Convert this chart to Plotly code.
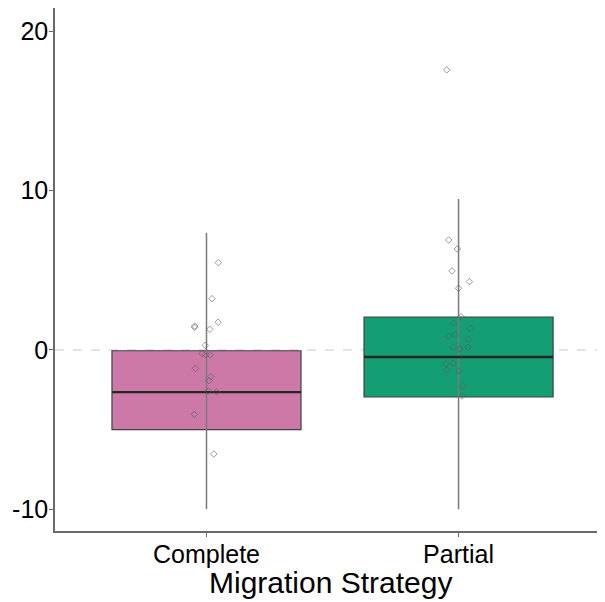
import plotly.graph_objects as go

categories = ["Complete", "Partial"]
box_colors = ["#CC79A7", "#149E74"]

# Box statistics
q1 = [-5.0, -2.95]
median = [-2.64, -0.44]
q3 = [-0.05, 2.07]
lower_fence = [-10.0, -10.0]
upper_fence = [7.35, 9.48]

# Jittered points (value, jitter offset in category units)
complete_vals = [5.48, 3.22, 1.74, 1.50, 1.42, 1.30, 0.29, -0.23, -0.29, -0.31,
                 -1.15, -1.67, -1.92, -2.57, -2.62, -4.04, -6.53]
complete_jit = [0.047, 0.022, 0.046, -0.047, -0.047, 0.013, -0.005, -0.017, -0.003, 0.014,
                -0.044, 0.017, 0.010, 0.007, 0.040, -0.048, 0.029]
partial_vals = [17.58, 6.9, 6.34, 4.96, 4.29, 3.87, 2.09, 1.67, 1.36, 0.98, 0.84, 0.67,
                0.15, 0.06, 0.17, -0.88, -0.82, -1.26, -1.32, -2.26, -2.89]
partial_jit = [-0.047, -0.039, -0.005, -0.026, 0.043, 0.0, 0.010, -0.021, 0.046, -0.013,
               -0.038, 0.039, -0.021, 0.005, 0.037, -0.050, -0.021, -0.046, 0.001, 0.018, 0.014]

y_ticks = [-10, 0, 10, 20]
y_ticktext = ["-10", "0", "10", "20"]

BOX_W = 0.75

fig = go.Figure()
# whiskers (single vertical line per group, box drawn on top)
for i in range(len(categories)):
    fig.add_trace(go.Scatter(
        x=[i, i], y=[lower_fence[i], upper_fence[i]], mode="lines",
        line=dict(color="#7a7a7a", width=1.5),
        showlegend=False, hoverinfo="skip",
    ))
for i, cat in enumerate(categories):
    fig.add_trace(go.Box(
        x=[i], q1=[q1[i]], median=[median[i]], q3=[q3[i]],
        lowerfence=[q1[i]], upperfence=[q3[i]],
        width=BOX_W, fillcolor=box_colors[i], whiskerwidth=0,
        line=dict(color="#404040", width=1.2),
        boxpoints=False, showlegend=False, hoverinfo="skip",
    ))
# thicker median lines
for i in range(len(categories)):
    fig.add_trace(go.Scatter(
        x=[i - BOX_W / 2, i + BOX_W / 2], y=[median[i], median[i]], mode="lines",
        line=dict(color="#262626", width=2.3),
        showlegend=False, hoverinfo="skip",
    ))

for i, (vals, jit) in enumerate([(complete_vals, complete_jit), (partial_vals, partial_jit)]):
    fig.add_trace(go.Scatter(
        x=[i + j for j in jit], y=vals, mode="markers",
        marker=dict(symbol="diamond-open", size=5, color="rgba(90,90,90,0.6)",
                    line=dict(width=1)),
        showlegend=False, hoverinfo="skip",
    ))

fig.add_shape(type="line", xref="paper", x0=0, x1=1, yref="y", y0=0, y1=0,
              line=dict(color="#c8c8c8", width=1, dash="dash"), layer="below")

fig.add_annotation(text="Migration Strategy", xref="paper", yref="paper",
                   x=0.5, y=-0.0987, xanchor="center", yanchor="middle",
                   showarrow=False, font=dict(size=30))

# page body has an 8px margin; figure sized so the plot area lands where the reference has it
fig.update_layout(
    width=597, height=594,
    margin=dict(l=47, r=0, t=0, b=71),
    plot_bgcolor="white", paper_bgcolor="white",
    font=dict(family="Liberation Sans, Arial, sans-serif", color="black"),
    xaxis=dict(
        range=[-0.601, 1.581], tickvals=[0, 1], ticktext=categories,
        showline=True, linecolor="#6a6a6a", linewidth=1.5,
        ticks="outside", ticklen=4, tickcolor="#6a6a6a",
        showgrid=False, zeroline=False, tickfont=dict(size=25),
        automargin=False, ticklabelstandoff=-4,
    ),
    yaxis=dict(
        range=[-11.36, 21.46], tickvals=y_ticks, ticktext=y_ticktext,
        showline=True, linecolor="#6a6a6a", linewidth=1.5,
        ticks="outside", ticklen=4, tickcolor="#6a6a6a",
        showgrid=False, zeroline=False, tickfont=dict(size=25),
        automargin=False, ticklabelstandoff=-4,
    ),
)

fig.write_html("out.html")
